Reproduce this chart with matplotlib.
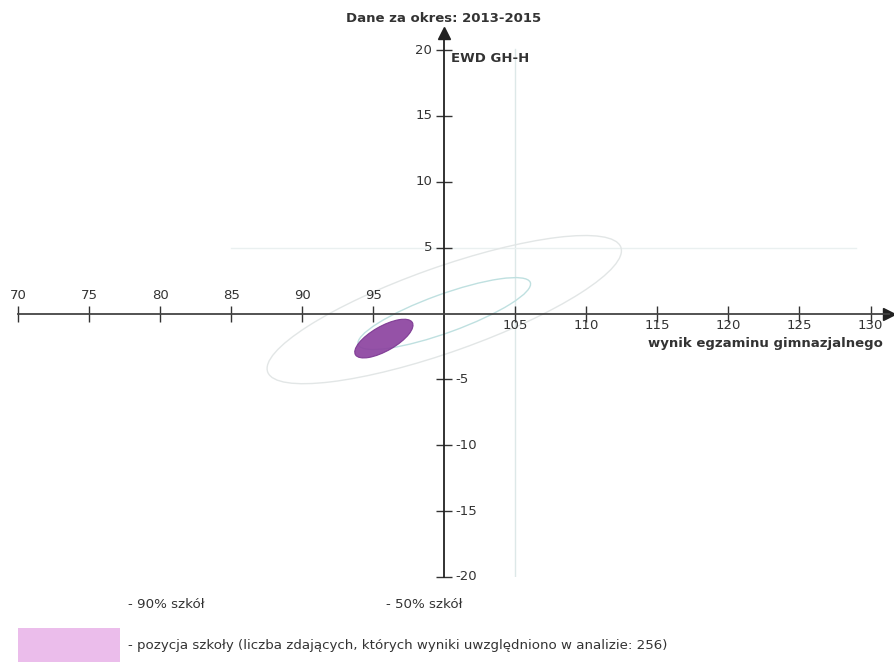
import numpy as np
import matplotlib
matplotlib.use("Agg")
import matplotlib.pyplot as plt
from matplotlib.patches import Ellipse, Rectangle

# data
x_ticks = [70, 75, 80, 85, 90, 95, 105, 110, 115, 120, 125, 130]
y_ticks = [20, 15, 10, 5, -5, -10, -15, -20]

# ellipses: centre x, centre y, width, height, angle (data units)
ell_90 = (100.0, 0.3, 26.6, 6.4, 21)
ell_50 = (100.0, 0.0, 13.0, 2.9, 21.4)
school = (95.75, -1.9, 4.7, 1.85, 32)
n_students = 256
period = "2013-2015"

grid_x = [105]
grid_y = [5]

fig = plt.figure(figsize=(8.95, 6.62), dpi=100)
ax = fig.add_axes([18 / 895, 85 / 662, 871 / 895, 544 / 662])
ax.set_xlim(70, 131.3)
ax.set_ylim(-20, 21.3)

# faint guide lines
for gx in grid_x:
    ax.axvline(gx, ymin=0.0, ymax=0.97, color="#dde8e8", lw=1, zorder=0)
for gy in grid_y:
    ax.plot([85, 129], [gy, gy], color="#eaf0f0", lw=1, zorder=0)

# ellipses
cx, cy, w, h, a = ell_90
ax.add_patch(Ellipse((cx, cy), w, h, angle=a, fill=False, ec="#e2e6e6", lw=1, zorder=1))
cx, cy, w, h, a = ell_50
ax.add_patch(Ellipse((cx, cy), w, h, angle=a, fill=False, ec="#bfe0e0", lw=1, zorder=1))
cx, cy, w, h, a = school
ax.add_patch(Ellipse((cx, cy), w, h, angle=a, fc="#8a3f9e", ec="#7a3590", alpha=0.9, lw=0.8, zorder=3))

# axes through (100, 0)
for s in ["top", "right"]:
    ax.spines[s].set_visible(False)
ax.spines["left"].set_position(("data", 100))
ax.spines["bottom"].set_position(("data", 0))
ax.spines["left"].set_color("#222222")
ax.spines["bottom"].set_color("#444444")
ax.spines["left"].set_linewidth(1.3)
ax.spines["bottom"].set_linewidth(1.3)
ax.plot(1, 0, ">", color="#222222", ms=9, transform=ax.get_yaxis_transform(), clip_on=False)
ax.plot(100, 1, "^", color="#222222", ms=9, transform=ax.get_xaxis_transform(), clip_on=False)

ax.set_xticks(x_ticks)
ax.set_yticks(y_ticks)
ax.set_xticklabels([])
ax.set_yticklabels([])
ax.tick_params(direction="inout", length=12, width=1, color="#333333")

lab = dict(fontsize=9.5, color="#333333", family="DejaVu Sans")
for t in x_ticks:
    if t < 100:
        ax.text(t, 0.85, str(t), ha="center", va="bottom", **lab)
    else:
        ax.text(t, -0.4, str(t), ha="center", va="top", **lab)
for t in y_ticks:
    if t > 0:
        ax.text(99.15, t, str(t), ha="right", va="center", **lab)
    else:
        ax.text(100.75, t, str(t), ha="left", va="center", **lab)

bold = dict(fontsize=9.5, fontweight="bold", color="#333333")
fig.text(444 / 895, 1 - 18 / 662, "Dane za okres: " + period, ha="center", va="center", **bold)
fig.text(451 / 895, 1 - 58 / 662, "EWD GH-H", ha="left", va="center", **bold)
fig.text(883 / 895, 1 - 343 / 662, "wynik egzaminu gimnazjalnego", ha="right", va="center", **bold)

# legend at the bottom
leg = dict(fontsize=9.6, color="#333333")
fig.text(128 / 895, 1 - 605 / 662, "- 90% szkół", ha="left", va="center", **leg)
fig.text(386 / 895, 1 - 605 / 662, "- 50% szkół", ha="left", va="center", **leg)
fig.patches.append(Rectangle((18 / 895, 0), 102 / 895, 34 / 662, transform=fig.transFigure,
                             fc="#ebbdeb", ec="none", figure=fig))
fig.text(128 / 895, 1 - 646 / 662,
         "- pozycja szkoły (liczba zdających, których wyniki uwzględniono w analizie: %d)" % n_students,
         ha="left", va="center", **leg)

fig.savefig("out.png", dpi=100)
